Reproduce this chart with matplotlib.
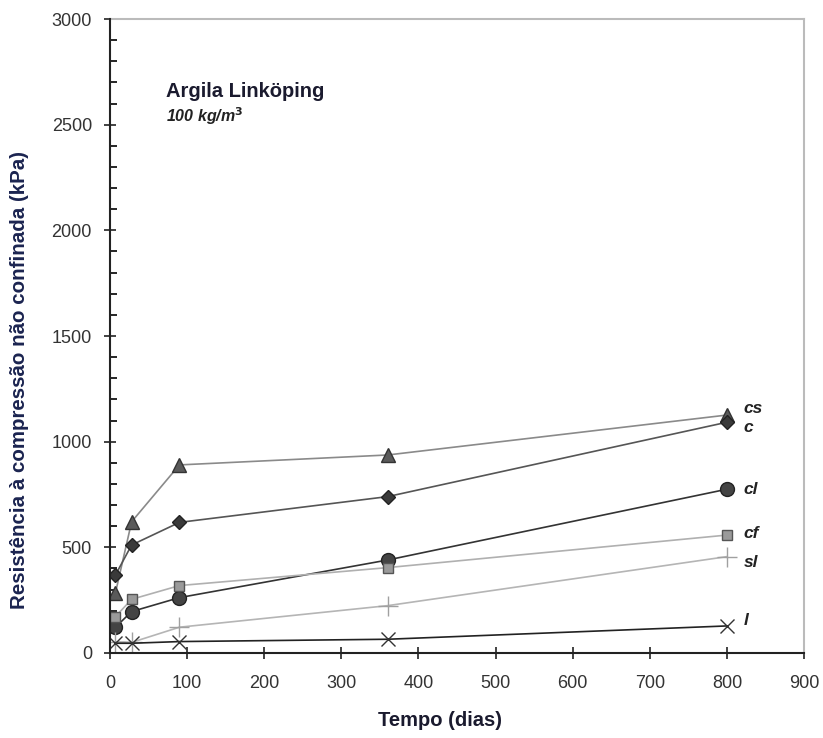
import matplotlib

matplotlib.use("Agg")

import matplotlib.pyplot as plt
from matplotlib.ticker import MultipleLocator

plt.rcParams["font.family"] = ["Liberation Sans", "DejaVu Sans"]

# Dados
DIAS = [7, 28, 90, 360, 800]
CS = [284, 621, 890, 937, 1126]
C = [369, 511, 618, 740, 1092]
CL = [122, 196, 262, 440, 775]
CF = [172, 254, 319, 404, 558]
SL = [53, 50, 122, 224, 456]
L = [46, 46, 54, 65, 128]

NOMES = ["cs", "c", "cl", "cf", "sl", "l"]

fig = plt.figure(figsize=(8.23, 7.38), dpi=100)
ax = fig.add_axes([0.1337, 0.1152, 0.8433, 0.859])

# Séries: (valores, marcador, cor linha, cor marcador, borda, tamanho)
estilos = [
    (CS, "^", "#8a8a8a", "#5a5a5a", "#333333", 10),
    (C, "D", "#555555", "#3a3a3a", "#222222", 7),
    (CL, "o", "#333333", "#444444", "#222222", 10),
    (CF, "s", "#b0b0b0", "#9a9a9a", "#555555", 7),
    (SL, "+", "#b5b5b5", "#a0a0a0", "#a0a0a0", 14),
    (L, "x", "#222222", "#333333", "#333333", 10),
]
for vals, mk, lc, fc, ec, ms in estilos:
    ax.plot(DIAS, vals, color=lc, linewidth=1.2, marker=mk, markersize=ms,
            markerfacecolor=fc, markeredgecolor=ec, markeredgewidth=1.0)

# Rótulos das séries
offsets = [5, -4, 0, 1, -4, 4]
for nome, (vals, *_), dy in zip(NOMES, estilos, offsets):
    ax.annotate(nome, (DIAS[-1], vals[-1]), xytext=(12, dy), textcoords="offset points",
                ha="left", va="center", fontsize=12.5, fontweight="bold",
                fontstyle="italic", color="#222222")

ax.set_xlim(0, 900)
ax.set_ylim(0, 3000)
ax.xaxis.set_major_locator(MultipleLocator(100))
ax.yaxis.set_major_locator(MultipleLocator(500))
ax.yaxis.set_minor_locator(MultipleLocator(100))
ax.tick_params(axis="both", which="major", direction="inout", length=8, width=1.2,
               labelsize=13, colors="#222222", labelcolor="#333333")
ax.tick_params(axis="x", which="major", pad=12)
ax.tick_params(axis="y", which="major", pad=9)
ax.tick_params(axis="y", which="minor", direction="in", length=5, width=1.2)
for s in ["top", "right"]:
    ax.spines[s].set_linewidth(1.5)
    ax.spines[s].set_color("#bbbbbb")
for s in ["left", "bottom"]:
    ax.spines[s].set_linewidth(1.5)
    ax.spines[s].set_color("#222222")
    ax.spines[s].set_zorder(3)

ax.set_xlabel("Tempo (dias)", fontsize=14.5, fontweight="bold", color="#1a1a2e")
ax.set_ylabel("Resistência à compressão não confinada (kPa)", fontsize=14.8,
              fontweight="bold", color="#1b2450")
ax.xaxis.set_label_coords(0.475, -0.106)
ax.yaxis.set_label_coords(-0.13, 0.43)
ax.xaxis.label.set_va("center")
ax.yaxis.label.set_va("center")

ax.text(72, 2630, "Argila Linköping", fontsize=14.5, fontweight="bold", color="#1a1a2e")
ax.text(72, 2515, r"100 kg/m$^{\mathbf{3}}$", fontsize=11.5, fontweight="bold",
        fontstyle="italic", color="#222222")

plt.savefig("out.png", dpi=100)
